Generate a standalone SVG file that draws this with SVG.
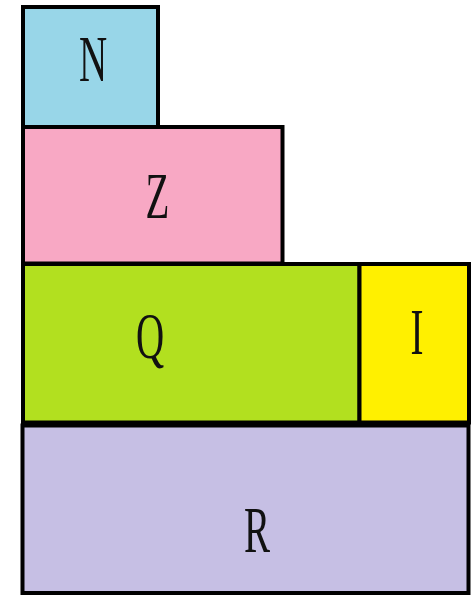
<svg xmlns="http://www.w3.org/2000/svg" width="471" height="596" viewBox="0 0 471 596">
<style>
.b{stroke:#000;stroke-width:4}
.t{font-family:"Liberation Serif",serif;font-size:65px;fill:#111;text-anchor:middle}
</style>
<rect width="471" height="596" fill="#fff"/>
<g id="N"><rect class="b" x="23" y="7" width="135" height="120" fill="#98d6e8"/><text class="t" transform="translate(93,81) scale(0.6,1)">N</text></g>
<g id="Z"><rect class="b" x="23" y="127" width="259.5" height="136.5" fill="#f8a8c4"/><text class="t" transform="translate(157.5,218) scale(0.6,1)">Z</text></g>
<g id="Q"><rect class="b" x="23" y="264" width="336.5" height="158.5" fill="#b2e01f"/><text class="t" transform="translate(150,358) scale(0.6,1)">Q</text></g>
<g id="I"><rect class="b" x="359.5" y="264" width="109.5" height="158.5" fill="#fff000"/><text class="t" transform="translate(417,354) scale(0.6,1)">I</text></g>
<g id="R"><rect class="b" x="22.5" y="425.5" width="446" height="167.5" fill="#c6bfe4"/><text class="t" transform="translate(257,552) scale(0.6,1)">R</text></g>
<g id="connectors"/>
</svg>
